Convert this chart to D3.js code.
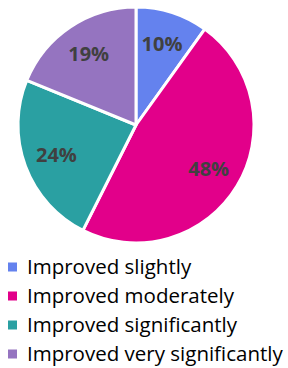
<!DOCTYPE html>
<html>
<head>
<meta charset="utf-8">
<script src="https://cdn.jsdelivr.net/npm/d3@7"></script>
<style>
  body { margin: 0; background: #fff; }
  svg { display: block; }
</style>
</head>
<body>
<div id="chart"></div>
<script>
"use strict"

// Chart data
const categories = ["Improved slightly", "Improved moderately", "Improved significantly", "Improved very significantly"];
const values = [10, 48, 24, 19];
const colors = ["#6482EE", "#E2008A", "#2AA0A2", "#9574C0"];

const figWidth = 288;
const figHeight = 368;

const center = {x: 136, y: 125};
const radius = 118;

const svg = d3.select("#chart").append("svg")
  .attr("width", figWidth)
  .attr("height", figHeight);

const pie = d3.pie().sort(null).value(d => d)(values);

const arc = d3.arc().innerRadius(0).outerRadius(radius);
const labelArc = d3.arc().innerRadius(radius * 0.72).outerRadius(radius * 0.72);

const plot = svg.append("g")
  .attr("transform", `translate(${center.x}, ${center.y})`);

plot.selectAll("path")
  .data(pie)
  .enter().append("path")
    .attr("d", arc)
    .attr("fill", (d, i) => colors[i])
    .attr("stroke", "#fff")
    .attr("stroke-width", 3)
    .attr("stroke-linejoin", "round");

plot.selectAll("text")
  .data(pie)
  .enter().append("text")
    .attr("transform", d => `translate(${labelArc.centroid(d)})`)
    .attr("text-anchor", "middle")
    .attr("dy", "0.35em")
    .attr("font-family", "'Open Sans', sans-serif")
    .attr("font-weight", "bold")
    .attr("font-size", 20)
    .attr("fill", "#404040")
    .text(d => `${d.data}%`);

// Legend
const legendY = d3.scalePoint()
  .domain(categories)
  .range([267, 354]);

const legend = svg.append("g").attr("class", "legend");

const rows = legend.selectAll("g")
  .data(categories)
  .enter().append("g")
    .attr("transform", d => `translate(0, ${legendY(d)})`);

rows.append("rect")
  .attr("x", 8)
  .attr("y", -4.5)
  .attr("width", 9)
  .attr("height", 9)
  .attr("fill", (d, i) => colors[i]);

rows.append("text")
  .attr("x", 27)
  .attr("dy", "0.35em")
  .attr("font-family", "'Open Sans', sans-serif")
  .attr("font-size", 20.5)
  .attr("fill", "#000")
  .text(d => d);
</script>
</body>
</html>
